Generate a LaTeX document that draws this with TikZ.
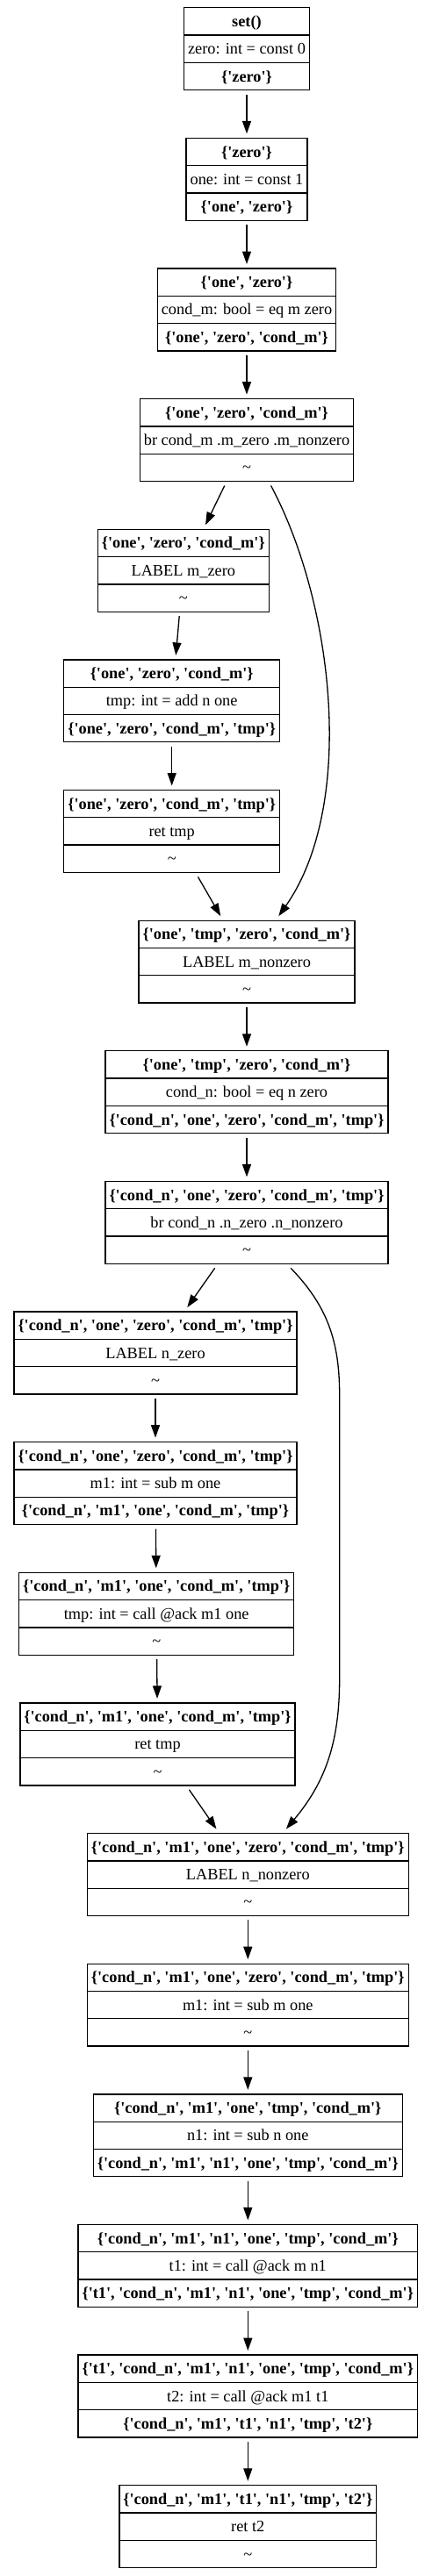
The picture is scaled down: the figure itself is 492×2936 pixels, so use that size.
\documentclass[tikz,border=0pt]{standalone}
\usepackage{fontspec}
\setmainfont{Liberation Serif}[Ligatures=TeXOff]
\usetikzlibrary{shapes.multipart,arrows.meta}

\newcommand\rw{\rule[-9pt]{0pt}{30pt}}
\newcommand\rows[3]{\rw\textbf{#1}\nodepart{two}\rw#2\nodepart{three}\rw#3}
\newcommand\tl{\textasciitilde}

\tikzset{
  blk/.style={draw, line width=1.3pt, rectangle split, rectangle split parts=3,
    inner xsep=4.5pt, inner ysep=0pt, outer sep=5pt,
    font=\fontsize{18.3pt}{22pt}\selectfont},
  flow/.style={-{Triangle[length=14.5pt,width=10pt]}, line width=1.3pt},
}

\begin{document}
\begin{tikzpicture}

\newcommand\Y{148.63pt};

\useasboundingbox (0,0) rectangle (492pt,-2936pt); %% margins

%% block m
\node[blk] (zero) at (281pt,-55.7pt-0*\Y)
  {\rows{set()}{zero: int = const 0}{\textbf{\{'zero'\}}}};
\node[blk] (one) at (281pt,-55.7pt-1*\Y)
  {\rows{\{'zero'\}}{one: int = const 1}{\textbf{\{'one', 'zero'\}}}};
\node[blk] (condm) at (281pt,-55.7pt-2*\Y)
  {\rows{\{'one', 'zero'\}}{cond\_m: bool = eq m zero}{\textbf{\{'one', 'zero', 'cond\_m'\}}}};
\node[blk] (brm) at (281pt,-55.7pt-3*\Y)
  {\rows{\{'one', 'zero', 'cond\_m'\}}{br cond\_m .m\_zero .m\_nonzero}{\tl}};
\node[blk] (mzero) at (208.8pt,-55.7pt-4*\Y)
  {\rows{\{'one', 'zero', 'cond\_m'\}}{LABEL m\_zero}{\tl}};
\node[blk] (addtmp) at (195.7pt,-55.7pt-5*\Y)
  {\rows{\{'one', 'zero', 'cond\_m'\}}{tmp: int = add n one}{\textbf{\{'one', 'zero', 'cond\_m', 'tmp'\}}}};
\node[blk] (rettmp) at (195.7pt,-55.7pt-6*\Y)
  {\rows{\{'one', 'zero', 'cond\_m', 'tmp'\}}{ret tmp}{\tl}};
\node[blk] (mnonzero) at (281pt,-55.7pt-7*\Y)
  {\rows{\{'one', 'tmp', 'zero', 'cond\_m'\}}{LABEL m\_nonzero}{\tl}};

%% block n
\node[blk] (condn) at (281pt,-55.7pt-8*\Y)
  {\rows{\{'one', 'tmp', 'zero', 'cond\_m'\}}{cond\_n: bool = eq n zero}{\textbf{\{'cond\_n', 'one', 'zero', 'cond\_m', 'tmp'\}}}};
\node[blk] (brn) at (281pt,-55.7pt-9*\Y)
  {\rows{\{'cond\_n', 'one', 'zero', 'cond\_m', 'tmp'\}}{br cond\_n .n\_zero .n\_nonzero}{\tl}};
\node[blk] (nzero) at (177pt,-55.7pt-10*\Y)
  {\rows{\{'cond\_n', 'one', 'zero', 'cond\_m', 'tmp'\}}{LABEL n\_zero}{\tl}};
\node[blk] (subm) at (177pt,-55.7pt-11*\Y)
  {\rows{\{'cond\_n', 'one', 'zero', 'cond\_m', 'tmp'\}}{m1: int = sub m one}{\textbf{\{'cond\_n', 'm1', 'one', 'cond\_m', 'tmp'\}}}};
\node[blk] (calltmp) at (178.2pt,-55.7pt-12*\Y)
  {\rows{\{'cond\_n', 'm1', 'one', 'cond\_m', 'tmp'\}}{tmp: int = call @ack m1 one}{\tl}};
\node[blk] (retn) at (179.5pt,-55.7pt-13*\Y)
  {\rows{\{'cond\_n', 'm1', 'one', 'cond\_m', 'tmp'\}}{ret tmp}{\tl}};
\node[blk] (nnonzero) at (282.3pt,-55.7pt-14*\Y)
  {\rows{\{'cond\_n', 'm1', 'one', 'zero', 'cond\_m', 'tmp'\}}{LABEL n\_nonzero}{\tl}};
\node[blk] (subm2) at (282.3pt,-55.7pt-15*\Y)
  {\rows{\{'cond\_n', 'm1', 'one', 'zero', 'cond\_m', 'tmp'\}}{m1: int = sub m one}{\tl}};
\node[blk] (subn) at (282.3pt,-55.7pt-16*\Y)
  {\rows{\{'cond\_n', 'm1', 'one', 'tmp', 'cond\_m'\}}{n1: int = sub n one}{\textbf{\{'cond\_n', 'm1', 'n1', 'one', 'tmp', 'cond\_m'\}}}};
\node[blk] (callt1) at (282.3pt,-55.7pt-17*\Y)
  {\rows{\{'cond\_n', 'm1', 'n1', 'one', 'tmp', 'cond\_m'\}}{t1: int = call @ack m n1}{\textbf{\{'t1', 'cond\_n', 'm1', 'n1', 'one', 'tmp', 'cond\_m'\}}}};
\node[blk] (callt2) at (282.3pt,-55.7pt-18*\Y)
  {\rows{\{'t1', 'cond\_n', 'm1', 'n1', 'one', 'tmp', 'cond\_m'\}}{t2: int = call @ack m1 t1}{\textbf{\{'cond\_n', 'm1', 't1', 'n1', 'tmp', 't2'\}}}};
\node[blk] (rett2) at (282.3pt,-55.7pt-19*\Y)
  {\rows{\{'cond\_n', 'm1', 't1', 'n1', 'tmp', 't2'\}}{ret t2}{\tl}};

\draw[flow] (zero) -- (one);
\draw[flow] (one) -- (condm);
\draw[flow] (condm) -- (brm);
\draw[flow] (brm) -- (mzero);
\draw[flow] (brm) to[out=-62, in=55, looseness=0.8] (mnonzero);
\draw[flow] (mzero) -- (addtmp);
\draw[flow] (addtmp) -- (rettmp);
\draw[flow] (rettmp) -- (mnonzero);
\draw[flow] (mnonzero) -- (condn);
\draw[flow] (condn) -- (brn);
\draw[flow] (brn) -- (nzero);
\draw[flow] (brn) to[out=-46, in=90] (386.7pt,-1590pt)
  -- (386.7pt,-1913pt) to[out=-90, in=50] (nnonzero);
\draw[flow] (nzero) -- (subm);
\draw[flow] (subm) -- (calltmp);
\draw[flow] (calltmp) -- (retn);
\draw[flow] (retn) -- (nnonzero);
\draw[flow] (nnonzero) -- (subm2);
\draw[flow] (subm2) -- (subn);
\draw[flow] (subn) -- (callt1);
\draw[flow] (callt1) -- (callt2);
\draw[flow] (callt2) -- (rett2);

\end{tikzpicture}
\end{document}
